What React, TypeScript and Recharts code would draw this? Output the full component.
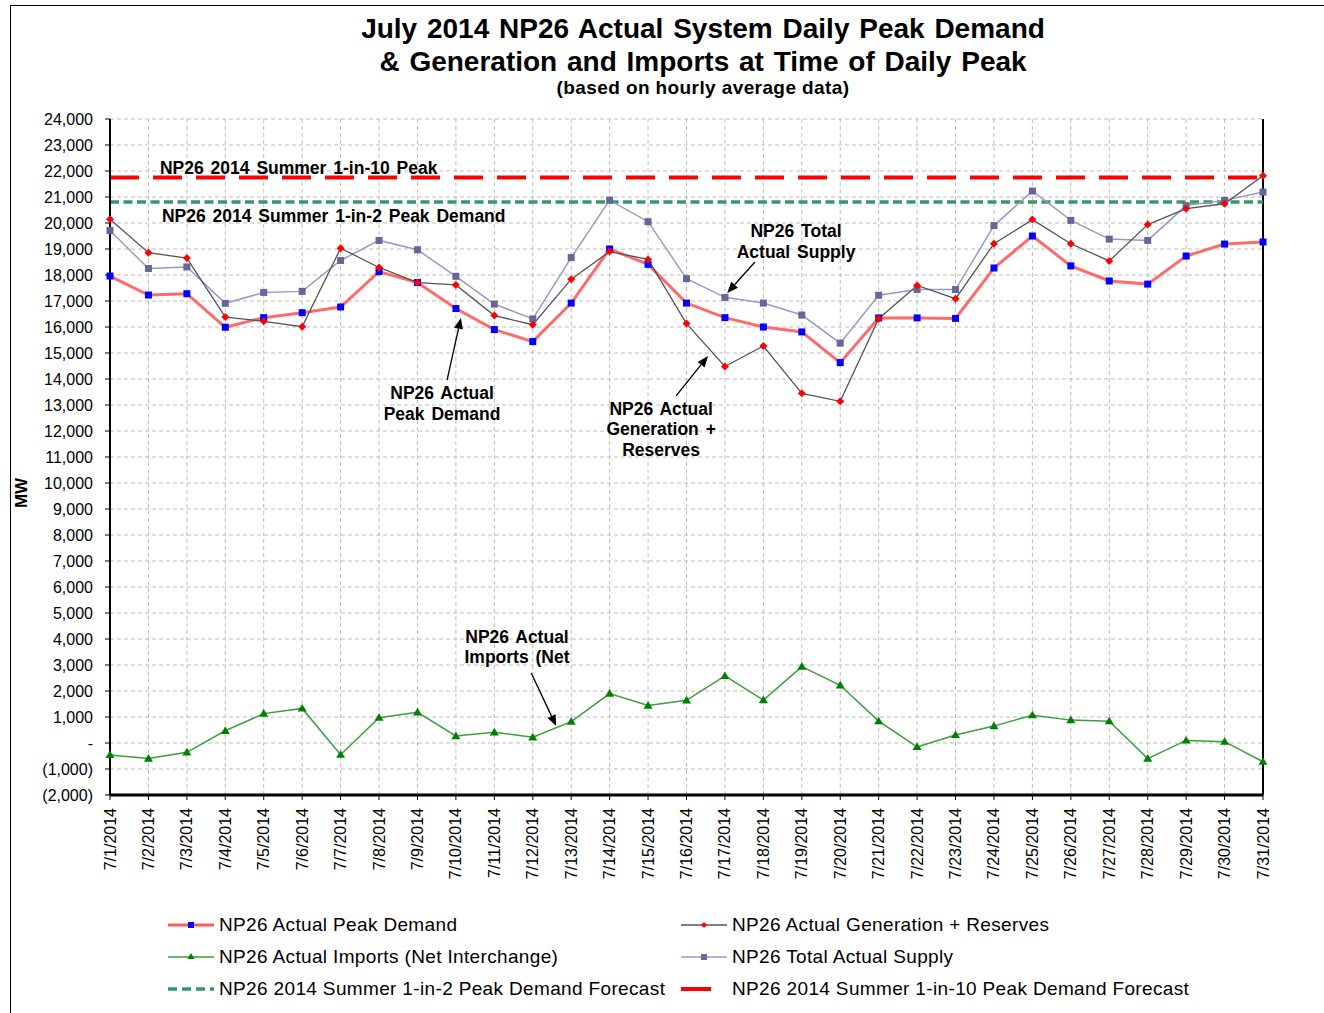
import React from "react";
import { LineChart, Line, XAxis, YAxis, CartesianGrid, ReferenceLine, ReferenceDot } from "recharts";

const dates = [
  "7/1/2014", "7/2/2014", "7/3/2014", "7/4/2014", "7/5/2014", "7/6/2014", "7/7/2014", "7/8/2014",
  "7/9/2014", "7/10/2014", "7/11/2014", "7/12/2014", "7/13/2014", "7/14/2014", "7/15/2014", "7/16/2014",
  "7/17/2014", "7/18/2014", "7/19/2014", "7/20/2014", "7/21/2014", "7/22/2014", "7/23/2014", "7/24/2014",
  "7/25/2014", "7/26/2014", "7/27/2014", "7/28/2014", "7/29/2014", "7/30/2014", "7/31/2014",
];

const peakDemand = [
  17960, 17230, 17280, 15990, 16360, 16550, 16770, 18130, 17710, 16710, 15900, 15440, 16920, 19000, 18410, 16920,
  16360, 16000, 15810, 14630, 16350, 16350, 16330, 18270, 19500, 18350, 17770, 17650, 18730, 19190, 19270,
];
const genReserves = [
  20140, 18860, 18650, 16380, 16220, 16010, 19030, 18290, 17710, 17620, 16440, 16090, 17840, 18900, 18600, 16130,
  14480, 15270, 13450, 13140, 16320, 17600, 17090, 19200, 20130, 19200, 18540, 19940, 20550, 20740, 21820,
];
const totalSupply = [
  19710, 18250, 18310, 16910, 17330, 17370, 18560, 19330, 18970, 17950, 16880, 16310, 18670, 20880, 20050, 17860,
  17140, 16920, 16460, 15380, 17220, 17440, 17440, 19900, 21230, 20100, 19380, 19330, 20670, 20870, 21190,
];
const imports = [
  -460, -600, -360, 470, 1130, 1330, -450, 975, 1180, 270, 410, 220, 820, 1900, 1440, 1640,
  2580, 1650, 2940, 2220, 840, -150, 310, 650, 1070, 880, 840, -600, 100, 50, -720,
];

const oneInTwo = 20810;
const oneInTen = 21750;

const yTicks = [
  -2000, -1000, 0, 1000, 2000, 3000, 4000, 5000, 6000, 7000, 8000, 9000, 10000, 11000, 12000, 13000, 14000,
  15000, 16000, 17000, 18000, 19000, 20000, 21000, 22000, 23000, 24000,
];

const data = dates.map((d, i) => ({
  i,
  date: d,
  peak: peakDemand[i],
  gen: genReserves[i],
  supply: totalSupply[i],
  imports: imports[i],
}));

// annotation labels: anchor in data coords (day index, MW), lines of text, arrow from/to
const notes = [
  { x: 17.85, y: 19460, anchor: "middle", lines: ["NP26 Total", "Actual Supply"], from: [16.78, 18500], to: [16.06, 17310] },
  { x: 8.64, y: 13230, anchor: "middle", lines: ["NP26 Actual", "Peak Demand"], from: [8.77, 13960], to: [9.13, 16350] },
  { x: 14.34, y: 12620, anchor: "middle", lines: ["NP26 Actual", "Generation +", "Reserves"], from: [14.73, 13350], to: [15.56, 14880] },
  { x: 10.59, y: 3850, anchor: "middle", lines: ["NP26 Actual", "Imports (Net"], from: [10.96, 2690], to: [11.61, 650] },
  { x: 1.3, y: 21880, anchor: "start", lines: ["NP26 2014 Summer 1-in-10 Peak"] },
  { x: 1.35, y: 20040, anchor: "start", lines: ["NP26 2014 Summer 1-in-2 Peak Demand"] },
];

const fmtY = (v: number) => {
  if (v === 0) return "-";
  const s = Math.abs(v).toLocaleString("en-US");
  return v < 0 ? `(${s})` : s;
};

const square = (fill: string, s: number) => (p: any) =>
  p.cx == null ? <g key={p.index} /> : <rect key={p.index} x={p.cx - s / 2} y={p.cy - s / 2} width={s} height={s} fill={fill} />;

const diamond = (fill: string, s: number) => (p: any) =>
  p.cx == null ? <g key={p.index} /> : (
    <polygon key={p.index} points={`${p.cx},${p.cy - s} ${p.cx + s},${p.cy} ${p.cx},${p.cy + s} ${p.cx - s},${p.cy}`} fill={fill} />
  );

const triangle = (fill: string, s: number) => (p: any) =>
  p.cx == null ? <g key={p.index} /> : (
    <polygon key={p.index} points={`${p.cx},${p.cy - s} ${p.cx + s},${p.cy + s * 0.7} ${p.cx - s},${p.cy + s * 0.7}`} fill={fill} />
  );

const arrowShape = (p: any) => {
  const { x1, y1, x2, y2 } = p;
  const a = Math.atan2(y2 - y1, x2 - x1);
  const L = 11, W = 4.5;
  const bx = x2 - L * Math.cos(a), by = y2 - L * Math.sin(a);
  const pts = `${x2},${y2} ${bx + W * Math.sin(a)},${by - W * Math.cos(a)} ${bx - W * Math.sin(a)},${by + W * Math.cos(a)}`;
  return (
    <g>
      <line x1={x1} y1={y1} x2={bx} y2={by} stroke="#000" strokeWidth={1.3} />
      <polygon points={pts} fill="#000" />
    </g>
  );
};

const XTick = (p: any) => {
  const { x, y, payload } = p;
  return (
    <text x={x} y={y} transform={`rotate(-90 ${x} ${y})`} textAnchor="end" dominantBaseline="central" fontSize={16} fill="#000">
      {dates[payload.value]}
    </text>
  );
};

const legendItems = [
  { label: "NP26 Actual Peak Demand", col: 0, row: 0, kind: "peak" },
  { label: "NP26 Actual Generation + Reserves", col: 1, row: 0, kind: "gen" },
  { label: "NP26 Actual Imports (Net Interchange)", col: 0, row: 1, kind: "imports" },
  { label: "NP26 Total Actual Supply", col: 1, row: 1, kind: "supply" },
  { label: "NP26 2014 Summer 1-in-2 Peak Demand Forecast", col: 0, row: 2, kind: "two" },
  { label: "NP26 2014 Summer 1-in-10 Peak Demand Forecast", col: 1, row: 2, kind: "ten" },
];

function LegendIcon({ kind }: { kind: string }) {
  return (
    <svg width={46} height={14} style={{ display: "block" }}>
      {kind === "peak" && (
        <>
          <line x1={0} y1={7} x2={46} y2={7} stroke="#ff5a5a" strokeWidth={3} />
          <rect x={20} y={4} width={6} height={6} fill="#0000ff" />
        </>
      )}
      {kind === "gen" && (
        <>
          <line x1={0} y1={7} x2={46} y2={7} stroke="#555" strokeWidth={1.3} />
          <polygon points="23,4 26,7 23,10 20,7" fill="#ff0000" />
        </>
      )}
      {kind === "imports" && (
        <>
          <line x1={0} y1={7} x2={46} y2={7} stroke="#3c9e3c" strokeWidth={1.5} />
          <polygon points="23,3 26.5,9 19.5,9" fill="#008000" />
        </>
      )}
      {kind === "supply" && (
        <>
          <line x1={0} y1={7} x2={46} y2={7} stroke="#9999c8" strokeWidth={1.5} />
          <rect x={20} y={4} width={6} height={6} fill="#666699" />
        </>
      )}
      {kind === "two" && <line x1={0} y1={7} x2={46} y2={7} stroke="#339966" strokeWidth={3.5} strokeDasharray="9 5" />}
      {kind === "ten" && <line x1={0} y1={7} x2={30} y2={7} stroke="#ff0000" strokeWidth={4} />}
    </svg>
  );
}

export default function App() {
  return (
    <div
      style={{
        position: "absolute",
        left: 0,
        top: 0,
        width: 1324,
        height: 1013,
        background: "#fff",
        overflow: "hidden",
        fontFamily: "'Liberation Sans', Arial, sans-serif",
        color: "#000",
      }}
    >
      <div style={{ position: "absolute", left: 10, top: 5, width: 1330, height: 1020, borderTop: "1.5px solid #000", borderLeft: "1.5px solid #000" }} />

      <div style={{ position: "absolute", left: 83, width: 1240, top: 12, textAlign: "center", fontWeight: "bold", fontSize: 28, lineHeight: "33px", wordSpacing: 2 }}>
        July 2014 NP26 Actual System Daily Peak Demand
        <br />& Generation and Imports at Time of Daily Peak
      </div>
      <div style={{ position: "absolute", left: 83, width: 1240, top: 77, textAlign: "center", fontWeight: "bold", fontSize: 19, lineHeight: "22px", letterSpacing: 0.4 }}>
        (based on hourly average data)
      </div>
      <div
        style={{
          position: "absolute",
          left: 2,
          top: 483,
          width: 40,
          height: 20,
          lineHeight: "20px",
          textAlign: "center",
          fontWeight: "bold",
          fontSize: 17,
          transform: "rotate(-90deg)",
        }}
      >
        MW
      </div>

      <div style={{ position: "absolute", left: 0, top: 0 }}>
        <LineChart width={1324} height={900} data={data} margin={{ top: 119, right: 61, bottom: 15, left: 50 }}>
          <CartesianGrid stroke="#bdbdbd" strokeDasharray="4 3" />
          <XAxis
            dataKey="i"
            type="number"
            domain={[0, 30]}
            ticks={data.map((d) => d.i)}
            interval={0}
            height={90}
            tick={<XTick />}
            tickSize={5}
            tickMargin={8}
            axisLine={{ stroke: "#000", strokeWidth: 3 }}
            tickLine={{ stroke: "#000" }}
          />
          <YAxis
            type="number"
            domain={[-2000, 24000]}
            ticks={yTicks}
            interval={0}
            width={60}
            tickFormatter={fmtY}
            tick={{ fill: "#000", fontSize: 16 }}
            tickSize={5}
            tickMargin={12}
            axisLine={{ stroke: "#000", strokeWidth: 2 }}
            tickLine={{ stroke: "#000" }}
          />
          <ReferenceLine x={30} stroke="#000" strokeWidth={2} />
          <ReferenceLine y={oneInTwo} stroke="#339966" strokeWidth={3.5} strokeDasharray="9 4.5" />
          <ReferenceLine y={oneInTen} stroke="#ff0000" strokeWidth={4} strokeDasharray="29 14" />

          <Line dataKey="peak" stroke="#ff5a5a" strokeOpacity={0.9} strokeWidth={3} dot={square("#0000ff", 7)} isAnimationActive={false} />
          <Line dataKey="supply" stroke="#9999c8" strokeWidth={1.5} dot={square("#666699", 7)} isAnimationActive={false} />
          <Line dataKey="gen" stroke="#555" strokeWidth={1.3} dot={diamond("#ff0000", 4)} isAnimationActive={false} />
          <Line dataKey="imports" stroke="#3c9e3c" strokeWidth={1.5} dot={triangle("#008000", 4.5)} isAnimationActive={false} />

          {notes
            .filter((n) => n.from)
            .map((n, k) => (
              <ReferenceLine
                key={`a${k}`}
                segment={[
                  { x: n.from![0], y: n.from![1] },
                  { x: n.to![0], y: n.to![1] },
                ]}
                shape={arrowShape}
              />
            ))}
          {notes.map((n, k) => (
            <ReferenceDot
              key={`t${k}`}
              x={n.x}
              y={n.y}
              r={1}
              shape={(p: any) => (
                <text x={p.cx} y={p.cy} textAnchor={n.anchor as any} fontSize={17.5} fontWeight="bold" fill="#000" wordSpacing={2}>
                  {n.lines.map((l, j) => (
                    <tspan key={j} x={p.cx} dy={j === 0 ? 0 : 20.5}>
                      {l}
                    </tspan>
                  ))}
                </text>
              )}
            />
          ))}
        </LineChart>
      </div>

      {legendItems.map((it) => (
        <div
          key={it.label}
          style={{
            position: "absolute",
            left: it.col === 0 ? 168 : 681,
            top: 914 + it.row * 32,
            display: "flex",
            alignItems: "center",
            height: 22,
            fontSize: 19,
            letterSpacing: 0.35,
            whiteSpace: "nowrap",
          }}
        >
          <LegendIcon kind={it.kind} />
          <span style={{ marginLeft: 5 }}>{it.label}</span>
        </div>
      ))}
    </div>
  );
}
